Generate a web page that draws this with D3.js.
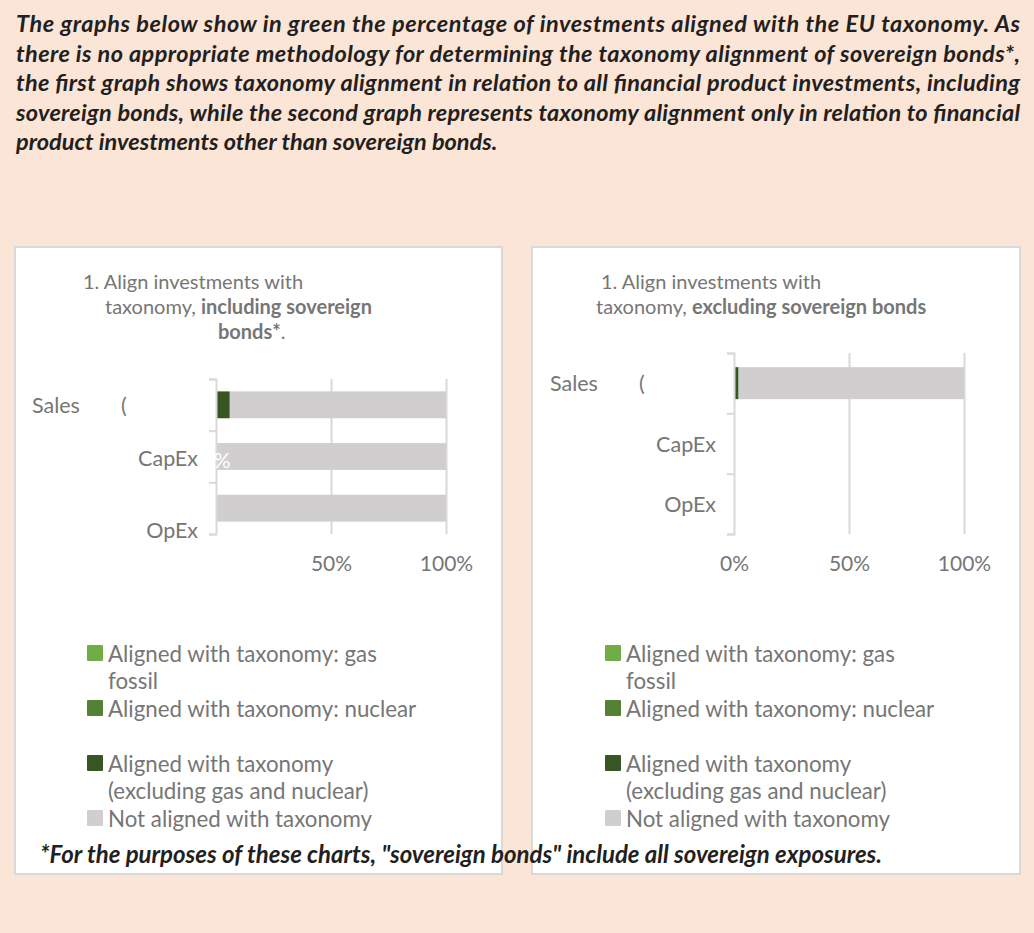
<!DOCTYPE html>
<html>
<head>
<meta charset="utf-8">
<script src="https://cdn.jsdelivr.net/npm/d3@7"></script>
<style>
  body { margin: 0; background: #FBE5D6; }
  svg { display: block; }
  .gris { fill: #767676; font-family: Lato, "Noto Sans", sans-serif; }
  .nota { fill: #231f20; font-family: Lato, sans-serif; font-weight: bold; font-style: italic; }
</style>
</head>
<body>
<div id="grafica"></div>
<script>
// datos
const categorias = ["Sales", "CapEx", "OpEx"]
const series = ["gas", "nuclear", "otras", "noAlineado"]
const leyenda = [
  ["Aligned with taxonomy: gas", "fossil"],
  ["Aligned with taxonomy: nuclear"],
  ["Aligned with taxonomy", "(excluding gas and nuclear)"],
  ["Not aligned with taxonomy"],
]
const colores = ["#70AD47", "#548235", "#375623", "#D0CECE"]

// grafica 1: incluye bonos soberanos
const gas1 = [0, 0, 0]
const nuclear1 = [0, 0, 0]
const otras1 = [6, 0, 0]
const noAlineado1 = [94, 100, 100]
const ticks1 = [50, 100]
const etiquetas1 = [{ cat: "CapEx", texto: "0%" }]

// grafica 2: excluye bonos soberanos
const gas2 = [0, 0, 0]
const nuclear2 = [0, 0, 0]
const otras2 = [2, 0, 0]
const noAlineado2 = [98, 0, 0]
const ticks2 = [0, 50, 100]

const encabezado = [
  "The graphs below show in green the percentage of investments aligned with the EU taxonomy. As",
  "there is no appropriate methodology for determining the taxonomy alignment of sovereign bonds*,",
  "the first graph shows taxonomy alignment in relation to all financial product investments, including",
  "sovereign bonds, while the second graph represents taxonomy alignment only in relation to financial",
  "product investments other than sovereign bonds.",
]
const pie = '*For the purposes of these charts, "sovereign bonds" include all sovereign exposures.'

const titulo1 = [
  [{ t: "1. Align investments with" }],
  [{ t: "taxonomy, " }, { t: "including sovereign", b: true }],
  [{ t: "bonds*", b: true }, { t: "." }],
]
const titulo2 = [
  [{ t: "1. Align investments with" }],
  [{ t: "taxonomy, " }, { t: "excluding sovereign bonds", b: true }],
]

const anchoTotal = 1034
const altoTotal = 933

const svg = d3
  .select("#grafica")
  .append("svg")
  .attr("width", anchoTotal)
  .attr("height", altoTotal)

// encabezado justificado
svg
  .selectAll(".enc")
  .data(encabezado)
  .enter()
  .append("text")
  .attr("class", "nota enc")
  .attr("x", 16)
  .attr("y", (d, i) => 32 + i * 29.5)
  .attr("font-size", 23.5)
  .attr("textLength", (d, i) => (i < encabezado.length - 1 ? 1004 : null))
  .attr("lengthAdjust", "spacing")
  .text((d) => d)

const paneles = [
  {
    x: 15, y: 247, w: 487, h: 627,
    izq: 216, der: 446, arriba: 379, abajo: 534, pad: 0.48,
    titulo: titulo1, tituloX: [83, 105, 218],
    datos: [gas1, nuclear1, otras1, noAlineado1],
    ticks: ticks1, etiquetas: etiquetas1,
    desfase: { Sales: 0, CapEx: 1, OpEx: 22 },
    leyX: 87,
  },
  {
    x: 532, y: 247, w: 488, h: 627,
    izq: 734, der: 964, arriba: 353, abajo: 534, pad: 0.47,
    titulo: titulo2, tituloX: [601, 596],
    datos: [gas2, nuclear2, otras2, noAlineado2],
    ticks: ticks2, etiquetas: [],
    desfase: { Sales: 0, CapEx: 0, OpEx: 0 },
    leyX: 605,
  },
]

paneles.forEach((p) => {
  const g = svg.append("g")
  g.append("rect")
    .attr("x", p.x)
    .attr("y", p.y)
    .attr("width", p.w)
    .attr("height", p.h)
    .attr("fill", "white")
    .attr("stroke", "#D9D9D9")
    .attr("stroke-width", 2)

  // titulo
  p.titulo.forEach((linea, i) => {
    const t = g
      .append("text")
      .attr("class", "gris")
      .attr("x", p.tituloX[i])
      .attr("y", 289 + i * 25)
      .attr("font-size", 20)
    linea.forEach((s) => {
      t.append("tspan")
        .attr("font-weight", s.b ? "bold" : null)
        .text(s.t)
    })
  })

  const tabla = categorias.map((c, i) => {
    const fila = { cat: c }
    series.forEach((s, j) => (fila[s] = p.datos[j][i]))
    return fila
  })
  const apilado = d3.stack().keys(series)(tabla)

  const x = d3.scaleLinear().domain([0, 100]).range([p.izq, p.der])
  const y = d3
    .scaleBand()
    .domain(categorias)
    .range([p.arriba, p.abajo])
    .paddingInner(p.pad)
    .paddingOuter(p.pad / 2)

  // lineas de cuadricula
  g.append("g")
    .attr("transform", `translate(0, ${p.abajo})`)
    .call(d3.axisBottom(x).tickValues([50, 100]).tickSize(-(p.abajo - p.arriba)).tickFormat(""))
    .call((a) => a.select(".domain").remove())
    .call((a) => a.selectAll("line").attr("stroke", "#D9D9D9").attr("stroke-width", 2))

  // barras apiladas
  g.selectAll(".serie")
    .data(apilado)
    .enter()
    .append("g")
    .attr("fill", (d, i) => colores[i])
    .selectAll("rect")
    .data((d) => d.filter((v) => v[1] - v[0] > 0))
    .enter()
    .append("rect")
    .attr("x", (d) => x(d[0]))
    .attr("y", (d) => y(d.data.cat))
    .attr("width", (d) => x(d[1]) - x(d[0]))
    .attr("height", y.bandwidth())

  // eje y con marcas en los limites de categoria
  const lim = d3.scaleLinear().domain([0, categorias.length]).range([p.arriba, p.abajo])
  g.append("g")
    .attr("transform", `translate(${p.izq}, 0)`)
    .call(d3.axisLeft(lim).ticks(categorias.length).tickFormat("").tickSize(7).tickSizeOuter(7))
    .call((a) => a.selectAll("path, line").attr("stroke", "#D9D9D9").attr("stroke-width", 2))

  // etiquetas blancas de datos
  g.selectAll(".etq")
    .data(p.etiquetas)
    .enter()
    .append("text")
    .attr("x", x(0))
    .attr("y", (d) => y(d.cat) + y.bandwidth() / 2 + 11)
    .attr("text-anchor", "middle")
    .attr("font-family", "Lato, sans-serif")
    .attr("font-size", 21)
    .attr("fill", "white")
    .text((d) => d.texto)

  // categorias
  categorias.forEach((c) => {
    const cy = y(c) + y.bandwidth() / 2 + 8 + p.desfase[c]
    if (c === "Sales") {
      g.append("text").attr("class", "gris").attr("font-size", 21.5)
        .attr("x", p.izq - 184).attr("y", cy).text(c)
      g.append("text").attr("class", "gris").attr("font-size", 21.5)
        .attr("x", p.izq - 95).attr("y", cy).text("(")
    } else {
      g.append("text").attr("class", "gris").attr("font-size", 21.5)
        .attr("x", p.izq - 18).attr("y", cy).attr("text-anchor", "end").text(c)
    }
  })

  // eje x
  g.append("g")
    .attr("transform", `translate(0, ${p.abajo})`)
    .call(d3.axisBottom(x).tickValues(p.ticks).tickSize(0).tickPadding(22).tickFormat((d) => d + "%"))
    .call((a) => a.select(".domain").remove())
    .call((a) => a.selectAll("text").attr("class", "gris").attr("font-size", 21).attr("fill", null))

  // leyenda
  const ley = g
    .selectAll(".ley")
    .data(leyenda)
    .enter()
    .append("g")
    .attr("transform", (d, i) => `translate(${p.leyX}, ${645 + i * 55})`)
  ley.append("rect")
    .attr("width", 16)
    .attr("height", 16)
    .attr("rx", 1)
    .attr("fill", (d, i) => colores[i])
  ley.each(function (d) {
    const t = d3.select(this).append("text").attr("class", "gris").attr("font-size", 22.3)
    d.forEach((linea, k) => {
      t.append("tspan").attr("x", 21).attr("y", 17 + k * 27).text(linea)
    })
  })
})

// nota al pie
svg.append("text")
  .attr("class", "nota")
  .attr("x", 40)
  .attr("y", 863)
  .attr("font-size", 24)
  .text(pie)
</script>
</body>
</html>
